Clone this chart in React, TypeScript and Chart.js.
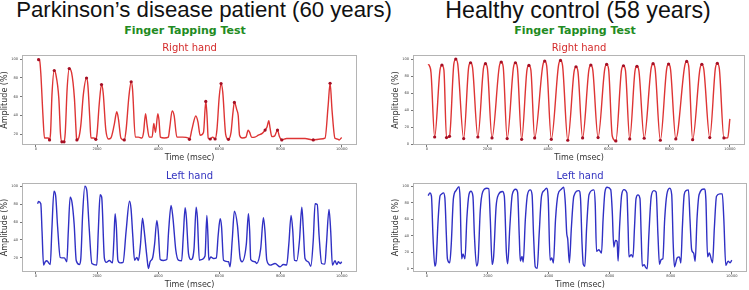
import React, { useEffect, useRef } from 'react';
import { Chart, registerables } from 'chart.js';
Chart.register(...registerables);

// ---------- tick values ----------
const xTicks = [0, 2000, 4000, 6000, 8000, 10000];
const pdYTicks = [20, 40, 60, 80, 100];
const hcYTicks = [0, 20, 40, 60, 80, 100];

// ---------- Parkinson's patient, right hand [time ms, amplitude %] ----------
const pdRight: [number, number][] = [
  [50, 100], [120, 99], [160, 85], [230, 40], [280, 16], [330, 16], [400, 16], [445, 14],
  [480, 22], [525, 62], [600, 88], [650, 84], [750, 58], [805, 20], [850, 12], [920, 12],
  [960, 22], [1020, 68], [1090, 90], [1165, 86], [1260, 58], [1325, 17], [1340, 14], [1400, 16],
  [1470, 30], [1550, 62], [1655, 80], [1700, 72], [1765, 35], [1800, 16], [1900, 16], [1960, 14.6],
  [2000, 21], [2070, 52], [2145, 73], [2200, 64], [2285, 25], [2375, 15], [2450, 16], [2560, 30],
  [2645, 44], [2700, 36], [2780, 16], [2890, 14], [2950, 25], [3040, 60], [3115, 76], [3160, 68],
  [3250, 17], [3350, 17], [3465, 16], [3520, 22], [3585, 42], [3635, 30], [3705, 17], [3800, 17],
  [3855, 31.6], [3910, 22], [3987, 42], [4025, 35], [4070, 17], [4200, 16], [4330, 17], [4380, 28],
  [4455, 45], [4520, 40], [4610, 17], [4800, 17], [4990, 16], [5020, 14.6], [5100, 25], [5230, 39.5],
  [5300, 33], [5370, 19], [5480, 22], [5555, 55], [5595, 40], [5635, 16], [5700, 15], [5780, 17],
  [5860, 15], [5920, 25], [5995, 60], [6055, 74], [6110, 65], [6205, 20], [6295, 14.6], [6380, 22],
  [6440, 42], [6490, 54], [6570, 46], [6615, 40], [6660, 19], [6750, 16], [6870, 17], [6940, 24.5],
  [6990, 22], [7055, 16.7], [7160, 17], [7275, 19], [7400, 21], [7495, 24.5], [7560, 28], [7615, 34.5],
  [7660, 26], [7715, 17.5], [7800, 18], [7900, 24.5], [7960, 18], [8040, 14], [8200, 15.5], [8500, 15.5],
  [8800, 15.5], [9070, 14], [9300, 15], [9455, 16], [9555, 50], [9620, 74.4], [9685, 45], [9780, 15.7],
  [9850, 15], [9920, 14], [10000, 16.7],
];
const pdRightMarks: [number, number][] = [
  [90, 99.5], [445, 14], [600, 88], [850, 12], [920, 12], [1090, 90], [1340, 14], [1655, 80],
  [1960, 14.6], [2145, 73], [2890, 14], [3115, 76], [5020, 14.6], [5555, 55], [5700, 15], [5860, 15],
  [6055, 74], [6295, 14.6], [6490, 54], [7495, 24.5], [7900, 24.5], [8040, 14], [9070, 14], [9620, 74.4],
];

// ---------- Parkinson's patient, left hand ----------
const pdLeft: [number, number][] = [
  [55, 80.4], [85, 83], [160, 80.4], [200, 50], [250, 11.9], [305, 15.6], [360, 16.7], [415, 14.4],
  [470, 12.6], [520, 50], [590, 94.4], [645, 89.6], [710, 54.4], [795, 20.4], [850, 20], [930, 20],
  [1010, 15.6], [1060, 50], [1120, 87.8], [1180, 82], [1250, 58], [1320, 16.7], [1425, 12.6], [1470, 20],
  [1530, 70], [1600, 100], [1665, 95], [1740, 54.4], [1830, 13.7], [1990, 11.9], [2040, 50], [2100, 90.4],
  [2150, 88], [2240, 19.3], [2300, 15], [2400, 17], [2505, 14.4], [2550, 40], [2590, 69.3], [2630, 55],
  [2680, 17.4], [2750, 14.4], [2850, 15], [2950, 50], [3060, 83.3], [3110, 75], [3170, 43.3], [3225, 17.4],
  [3300, 20.4], [3350, 17], [3420, 35], [3485, 64.4], [3540, 50.7], [3630, 21], [3680, 8.1], [3735, 15.6],
  [3820, 20.4], [3880, 35], [3955, 61.9], [4000, 50], [4065, 18.1], [4170, 17], [4280, 18.1], [4340, 50],
  [4420, 78.5], [4480, 65], [4575, 28.5], [4660, 17.4], [4765, 16.7], [4820, 45], [4880, 75.9], [4920, 65],
  [4990, 24.8], [5075, 18], [5170, 30], [5240, 76.7], [5280, 65], [5345, 17.4], [5410, 18], [5530, 22],
  [5590, 67.4], [5625, 45], [5655, 17.4], [5720, 21], [5810, 19.3], [5900, 20], [5960, 45], [6025, 63.7],
  [6070, 55], [6135, 17.4], [6300, 15.6], [6350, 10], [6420, 40], [6490, 72.2], [6590, 56.3], [6680, 19.3],
  [6740, 15.6], [6880, 35], [6950, 69.3], [6990, 50], [7025, 18.1], [7165, 15.6], [7220, 13.7], [7350, 30],
  [7440, 64.8], [7490, 50], [7550, 17.4], [7660, 11.9], [7820, 13.7], [7985, 10], [8090, 12.6], [8200, 11.9],
  [8270, 35], [8345, 67.4], [8400, 50], [8455, 17.4], [8530, 16.7], [8620, 40], [8695, 76.7], [8740, 55],
  [8800, 19.3], [8910, 15.6], [8990, 10.7], [9070, 40], [9130, 80.4], [9200, 79.6], [9260, 45], [9345, 13.7],
  [9450, 13], [9500, 35], [9585, 74.1], [9640, 50], [9695, 11.9], [9780, 16.7], [9840, 12.6], [9890, 15.6],
  [9950, 13.7], [10000, 15.6],
];

// ---------- Healthy control, right hand ----------
const hcRight: [number, number][] = [
  [43, 93.8], [90, 92], [140, 84], [260, 8.5], [435, 87], [500, 93], [565, 87], [650, 7.8],
  [750, 9.3], [892, 94], [957, 100], [1022, 94], [1217, 6.6], [1380, 90], [1445, 95.7], [1510, 90],
  [1685, 8.5], [1870, 89], [1935, 94.6], [2000, 89], [2152, 7.4], [2391, 91], [2456, 96.5], [2521, 91],
  [2652, 6.6], [2859, 90], [2924, 95.7], [2989, 90], [3130, 5.8], [3305, 87], [3370, 92.6], [3435, 87],
  [3560, 7.4], [3826, 92], [3891, 97.7], [3956, 92], [4109, 5.8], [4348, 93], [4413, 98.4], [4478, 93],
  [4652, 4.7], [4859, 85], [4924, 91], [4989, 85], [5141, 7.4], [5348, 87], [5413, 93], [5478, 87],
  [5652, 7.8], [5870, 88], [5935, 93.8], [6000, 88], [6120, 9.7], [6239, 3.9], [6424, 87], [6489, 92.2],
  [6554, 87], [6696, 6.2], [6870, 86], [6935, 91.5], [7000, 86], [7174, 7], [7402, 89], [7467, 94.6],
  [7532, 89], [7707, 4.7], [7913, 88], [7978, 94.2], [8043, 88], [8217, 6.2], [8511, 92], [8576, 97.3],
  [8641, 92], [8772, 5.4], [9011, 88], [9076, 93.8], [9141, 88], [9337, 7.8], [9522, 89], [9587, 95],
  [9652, 89], [9804, 7.4], [9930, 7.5], [10000, 29.8],
];
const hcRightMarks: [number, number][] = [
  [260, 8.5], [500, 93], [650, 7.8], [750, 9.3], [957, 100], [1217, 6.6], [1445, 95.7], [1685, 8.5],
  [1935, 94.6], [2152, 7.4], [2456, 96.5], [2652, 6.6], [2924, 95.7], [3130, 5.8], [3370, 92.6], [3560, 7.4],
  [3891, 97.7], [4109, 5.8], [4413, 98.4], [4652, 4.7], [4924, 91], [5141, 7.4], [5413, 93], [5652, 7.8],
  [5935, 93.8], [6239, 3.9], [6489, 92.2], [6696, 6.2], [6935, 91.5], [7174, 7], [7467, 94.6], [7707, 4.7],
  [7978, 94.2], [8217, 6.2], [8576, 97.3], [8772, 5.4], [9076, 93.8], [9337, 7.8], [9587, 95], [9804, 7.4],
];

// ---------- Healthy control, left hand ----------
const hcLeft: [number, number][] = [
  [43, 88.8], [100, 92], [150, 88], [200, 40], [260, 3.2], [300, 8], [370, 60], [430, 88],
  [467, 90], [543, 92], [590, 86], [640, 40], [674, 12], [750, 7.2], [800, 30], [870, 85],
  [960, 95], [1054, 99.6], [1090, 85], [1141, 12], [1185, 17.9], [1250, 12], [1310, 60], [1380, 90],
  [1445, 94], [1510, 88], [1560, 40], [1630, 3.2], [1680, 10], [1750, 70], [1830, 93], [1967, 97.6],
  [2030, 97], [2080, 60], [2141, 5.2], [2190, 15], [2270, 75], [2350, 90], [2478, 93.6], [2540, 88],
  [2609, 19], [2652, 6], [2720, 50], [2800, 90], [2913, 96.4], [2975, 93], [3030, 40], [3065, 9.2],
  [3120, 15], [3160, 8], [3230, 60], [3300, 90], [3391, 95.6], [3450, 90], [3500, 40], [3554, 2.4],
  [3620, 0.4], [3680, 40], [3760, 88], [3850, 95], [3924, 97.6], [3980, 85], [4043, 10.4], [4098, 13],
  [4150, 7], [4220, 60], [4300, 90], [4400, 96], [4489, 98.8], [4540, 80], [4587, 43], [4620, 35.9],
  [4674, 7.2], [4740, 50], [4820, 88], [4989, 94.8], [5040, 85], [5090, 30], [5130, 5.2], [5180, 3],
  [5240, 50], [5320, 90], [5478, 95.6], [5520, 80], [5565, 21], [5641, 23], [5728, 19], [5780, 60],
  [5840, 93], [5913, 98.8], [6030, 96], [6080, 70], [6130, 26.3], [6185, 34.3], [6239, 33], [6272, 9.2],
  [6320, 50], [6390, 90], [6467, 96], [6560, 92], [6600, 50], [6630, 14.3], [6707, 17.1], [6760, 14],
  [6810, 50], [6860, 85], [6924, 89.6], [6990, 85], [7030, 40], [7065, 3.2], [7130, 5], [7170, 2],
  [7228, 0], [7280, 40], [7360, 88], [7446, 94.8], [7520, 93], [7580, 40], [7630, 5.2], [7685, 11.2],
  [7740, 12], [7800, 60], [7870, 90], [7967, 97.6], [8030, 90], [8080, 30], [8120, 2.4], [8207, 13],
  [8283, 14.3], [8330, 7], [8380, 50], [8440, 90], [8500, 94.8], [8580, 95.6], [8630, 60], [8685, 23],
  [8750, 19], [8800, 9], [8860, 60], [8930, 90], [9098, 96.8], [9150, 85], [9207, 14.3], [9261, 19],
  [9370, 7.2], [9430, 50], [9500, 88], [9609, 90.8], [9690, 90.8], [9740, 60], [9804, 4], [9880, 9.2],
  [9946, 7.2], [10000, 10.4],
];

const FONT = "'DejaVu Sans', 'Liberation Sans', sans-serif";

const framePlugin = {
  id: 'frame',
  afterDatasetsDraw(chart: any) {
    const { ctx, chartArea: a } = chart;
    ctx.save();
    ctx.strokeStyle = '#b4b4b4';
    ctx.lineWidth = 1;
    ctx.strokeRect(a.left + 0.5, a.top + 0.5, a.right - a.left - 1, a.bottom - a.top - 1);
    ctx.restore();
  },
};

type PanelProps = {
  left: number; top: number; width: number; height: number; padRight: number;
  series: [number, number][]; marks?: [number, number][];
  color: string; markColor?: string; title: string; titleColor: string;
  yMin: number; yMax: number; yTicks: number[];
};

function Panel(p: PanelProps) {
  const ref = useRef<HTMLCanvasElement | null>(null);
  useEffect(() => {
    const datasets: any[] = [
      {
        data: p.series.map(([x, y]) => ({ x, y })),
        borderColor: p.color,
        borderWidth: 1.4,
        pointRadius: 0,
        cubicInterpolationMode: 'monotone',
        fill: false,
        order: 2,
      },
    ];
    if (p.marks) {
      datasets.push({
        data: p.marks.map(([x, y]) => ({ x, y })),
        showLine: false,
        pointRadius: 1.6,
        pointBackgroundColor: p.markColor,
        pointBorderWidth: 0,
        order: 1,
      });
    }
    const tickFont = { family: FONT, size: 3.6 };
    const chart = new Chart(ref.current as HTMLCanvasElement, {
      type: 'line',
      data: { datasets },
      plugins: [framePlugin],
      options: {
        animation: false,
        responsive: false,
        devicePixelRatio: 1,
        events: [],
        layout: { padding: { left: 0, right: p.padRight, top: 0, bottom: 0 } },
        plugins: {
          legend: { display: false },
          tooltip: { enabled: false },
          title: {
            display: true,
            text: p.title,
            color: p.titleColor,
            fullSize: false,
            font: { family: FONT, size: 10, weight: 'normal', lineHeight: 1.2 },
            padding: { top: 0, bottom: 1 },
          },
        },
        scales: {
          x: {
            type: 'linear',
            min: -455,
            max: 10500,
            afterBuildTicks: (s: any) => { s.ticks = xTicks.map((v) => ({ value: v })); },
            afterFit: (s: any) => { s.height = 18; },
            ticks: {
              callback: (v: any) => String(v),
              font: tickFont,
              color: '#444',
              padding: 0,
              maxRotation: 0,
              autoSkip: false,
            },
            grid: { drawOnChartArea: false, drawTicks: true, tickLength: 2, color: '#777' },
            border: { display: false },
            title: { display: true, text: 'Time (msec)', color: '#333', font: { family: FONT, size: 8 }, padding: 0 },
          },
          y: {
            type: 'linear',
            min: p.yMin,
            max: p.yMax,
            afterBuildTicks: (s: any) => { s.ticks = p.yTicks.map((v) => ({ value: v })); },
            afterFit: (s: any) => { s.width = 22; },
            ticks: {
              callback: (v: any) => String(v),
              font: tickFont,
              color: '#444',
              padding: 2,
              autoSkip: false,
            },
            grid: { drawOnChartArea: false, drawTicks: true, tickLength: 2, color: '#777' },
            border: { display: false },
            title: { display: true, text: 'Amplitude (%)', color: '#333', font: { family: FONT, size: 8 }, padding: 0 },
          },
        },
      } as any,
    });
    return () => chart.destroy();
  }, []);
  return (
    <canvas
      ref={ref}
      width={p.width}
      height={p.height}
      style={{ position: 'absolute', left: p.left, top: p.top, width: p.width, height: p.height }}
    />
  );
}

const RED = '#de3434';
const RED_MARK = '#a50f24';
const BLUE = '#3030c4';

export default function App() {
  const bigTitle: React.CSSProperties = {
    position: 'absolute', top: -1, width: 420, textAlign: 'center', whiteSpace: 'nowrap',
    fontFamily: "'Liberation Sans', Arial, sans-serif", lineHeight: '22.5px', color: '#111',
  };
  const subTitle: React.CSSProperties = {
    position: 'absolute', top: 25, width: 200, textAlign: 'center', whiteSpace: 'nowrap',
    fontFamily: FONT, fontWeight: 'bold', fontSize: 11, lineHeight: '11px', color: '#228b22',
  };
  return (
    <div style={{ position: 'fixed', left: 0, top: 0, width: 749, height: 290, background: '#fff', overflow: 'hidden' }}>
      <div style={{ ...bigTitle, left: 204 - 210, fontSize: 22.2 }}>Parkinson’s disease patient (60 years)</div>
      <div style={{ ...bigTitle, left: 578 - 210, fontSize: 23.2 }}>Healthy control (58 years)</div>
      <div style={{ ...subTitle, left: 185 - 100 }}>Finger Tapping Test</div>
      <div style={{ ...subTitle, left: 575 - 100 }}>Finger Tapping Test</div>

      <Panel left={0} top={42} width={375} height={121} padRight={18}
        series={pdRight} marks={pdRightMarks} color={RED} markColor={RED_MARK}
        title="Right hand" titleColor="#d42a2a" yMin={8.6} yMax={104.5} yTicks={pdYTicks} />
      <Panel left={391} top={42} width={358} height={121} padRight={2}
        series={hcRight} marks={hcRightMarks} color={RED} markColor={RED_MARK}
        title="Right hand" titleColor="#d42a2a" yMin={-0.9} yMax={104.8} yTicks={hcYTicks} />
      <Panel left={0} top={170} width={375} height={120} padRight={18}
        series={pdLeft} color={BLUE}
        title="Left hand" titleColor="#3434c0" yMin={4.2} yMax={103.6} yTicks={pdYTicks} />
      <Panel left={391} top={170} width={358} height={120} padRight={2}
        series={hcLeft} color={BLUE}
        title="Left hand" titleColor="#3434c0" yMin={-4} yMax={104} yTicks={hcYTicks} />
    </div>
  );
}
